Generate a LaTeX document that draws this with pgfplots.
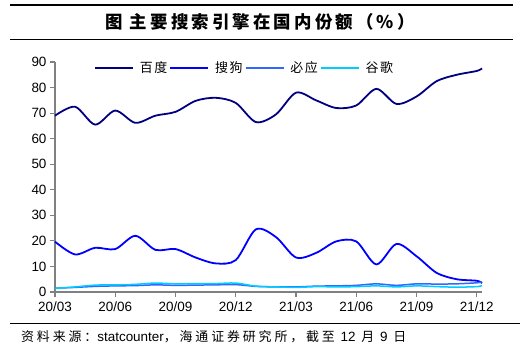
\documentclass[border=0pt]{standalone}
\usepackage{pgfplots}
\pgfplotsset{compat=1.18}
\usepackage{fontspec}
\setmainfont{Liberation Sans}
\newfontfamily\cjk[LetterSpace=12]{Noto Sans CJK SC}
\newfontfamily\cjkt[LetterSpace=18]{Noto Sans CJK SC}
\newfontfamily\cjkf[LetterSpace=22]{Noto Sans CJK SC}
\definecolor{baidu}{RGB}{0,0,128}
\definecolor{sogou}{RGB}{0,0,255}
\definecolor{bing}{RGB}{51,102,255}
\definecolor{google}{RGB}{0,204,255}
\definecolor{axgray}{RGB}{128,128,128}
\begin{document}
\begin{tikzpicture}[x=1bp,y=1bp]
\useasboundingbox (-55,-62) rectangle (470,292);
\draw[line width=1.2bp] (-45,287) -- (458,287);
\draw[line width=1.2bp] (-45,252.5) -- (458,252.5);
\node[font=\cjkt\bfseries\fontsize{17.5}{19}\selectfont] at (205,270) {图\ 主要搜索引擎在国内份额（\%）};
\begin{axis}[
  at={(0,0)}, anchor=origin,
  scale only axis, width=427bp, height=230bp,
  xmin=0, xmax=21.26, ymin=0, ymax=90,
  axis x line*=bottom, axis y line*=left,
  axis line style={axgray, line width=1.8bp, -},
  xtick={0,3,6,9,12,15,18,21},
  xticklabels={20/03,20/06,20/09,20/12,21/03,21/06,21/09,21/12},
  ytick={0,10,...,90},
  tick style={axgray, line width=1.2bp},
  tick align=outside, major tick length=5bp,
  tick label style={font=\fontsize{13.5}{15}\selectfont},
  /pgf/number format/assume math mode=true,
  xticklabel style={yshift=-1bp},
  yticklabel style={xshift=0bp},
  legend style={draw=none, fill=none, at={(36bp,224bp)}, anchor=west,
    font=\cjk\fontsize{13}{15}\selectfont, column sep=4bp,
    /tikz/every even column/.append style={column sep=0bp}},
  legend columns=4,
  legend image code/.code={\draw[#1, line width=1.8bp] (0bp,0bp) -- (38bp,0bp);},
  every axis plot/.append style={smooth, tension=0.5, line width=1.8bp},
  clip=false,
]
\addplot[baidu] coordinates {(0,69) (1,72.5) (2,65.5) (3,71) (4,66.2) (5,69) (6,70.5) (7,74.8) (8,76) (9,74) (10,66.5) (11,69.5) (12,78) (13,75) (14,72) (15,73) (16,79.5) (17,73.6) (18,76.5) (19,82.5) (20,85) (21,86.5) (21.26,87.5)};
\addlegendentry{百度}
\addplot[sogou] coordinates {(0,19.7) (1,14.7) (2,17.3) (3,16.8) (4,22) (5,16.5) (6,16.8) (7,13.5) (8,11.2) (9,12.5) (10,24.5) (11,21.5) (12,13.5) (13,15.3) (14,19.8) (15,19.8) (16,10.8) (17,18.8) (18,14) (19,7.5) (20,5) (21,4.4) (21.26,3.5)};
\addlegendentry{搜狗}
\addplot[bing, line width=1.5bp] coordinates {(0,1.5) (1,1.8) (2,2.2) (3,2.4) (4,2.5) (5,2.8) (6,2.6) (7,2.7) (8,2.8) (9,2.9) (10,2.2) (11,2.0) (12,2.0) (13,2.3) (14,2.4) (15,2.6) (16,3.2) (17,2.6) (18,3.2) (19,3.1) (20,3.2) (21,3.6) (21.26,4.0)};
\addlegendentry{必应}
\addplot[google, line width=1.5bp] coordinates {(0,1.4) (1,2.0) (2,2.7) (3,2.8) (4,3.0) (5,3.5) (6,3.2) (7,3.3) (8,3.3) (9,3.5) (10,2.3) (11,2.0) (12,1.8) (13,2.1) (14,2.0) (15,2.1) (16,2.4) (17,2.0) (18,2.4) (19,2.1) (20,1.9) (21,2.1) (21.26,2.5)};
\addlegendentry{谷歌}
\end{axis}
\draw[line width=1bp] (-45,-31) -- (465,-31);
\node[anchor=west, font=\cjkf\fontsize{13}{14}\selectfont, inner sep=0] at (-34,-45) {资料来源：{\rmfamily\fontsize{13.5}{14}\selectfont statcounter}，海通证券研究所，截至 {\rmfamily\fontsize{13.5}{14}\selectfont 12} 月 {\rmfamily\fontsize{13.5}{14}\selectfont 9} 日};
\end{tikzpicture}
\end{document}
